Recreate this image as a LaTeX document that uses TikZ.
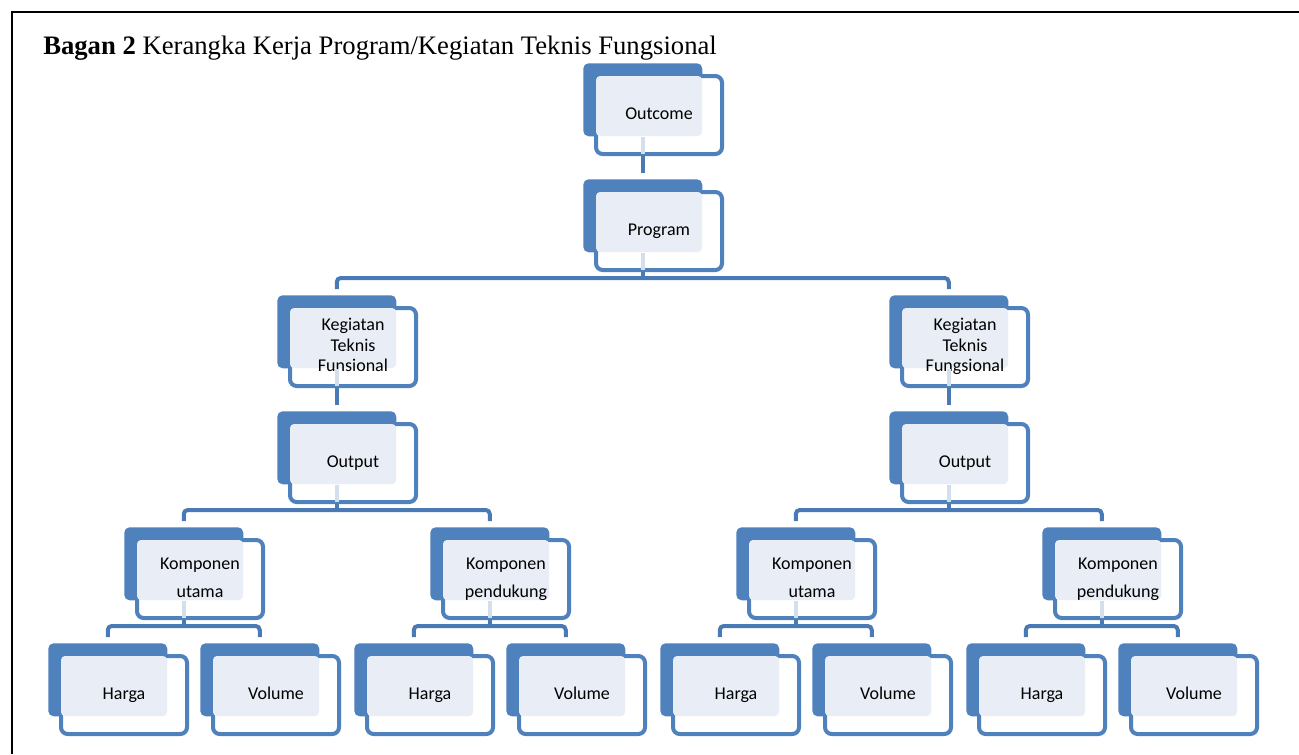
\documentclass[tikz,border=0pt]{standalone}
\usepackage{fontspec}
\setmainfont{Liberation Serif}
\newfontfamily\carlito{Carlito}
\usetikzlibrary{calc}
\definecolor{bblue}{HTML}{4F81BD}
\definecolor{lblue}{HTML}{4A7AB5}
\definecolor{lfill}{HTML}{E9EEF6}
\definecolor{sfill}{HTML}{D5DEEB}
\newcommand\st{\rule[-3pt]{0pt}{12.5pt}}
\tikzset{
  backbox/.style={fill=bblue, rounded corners=4pt, inner sep=0pt, minimum width=89.25pt, minimum height=54.75pt, anchor=north west},
  frontbox/.style={draw=bblue, line width=3pt, fill=white, rounded corners=5pt, inner sep=0pt, minimum width=94.5pt, minimum height=58.5pt, anchor=north west},
  lbl/.style={font=\carlito\fontsize{13.5}{15.4}\selectfont, align=center, inner sep=0pt, text=black},
  lbltwo/.style={font=\carlito\fontsize{13.5}{21}\selectfont},
  conn/.style={draw=lblue, line width=3pt},
  stubline/.style={draw=sfill, line width=3pt},
}
\newcommand\elem[5]{%
  \node[backbox] (#1-b) at (#2,#3) {};
  \node[frontbox] (#1) at (#2+11,#3+11) {};
  \fill[lfill, rounded corners=3pt] (#2+13,#3+13) rectangle (#2+119,#3+73);
  \node[lbl,#5] (#1-t) at (#1.center) {#4};
}
\newcommand\stub[1]{%
  \draw[stubline] (#1-b.south) -- ($(#1-b.south |- #1.south)+(0,-2)$);
}
\begin{document}
\begin{tikzpicture}[x=0.75pt,y=-0.75pt]
\useasboundingbox (0,0) rectangle (1299,754);
\fill[white] (0,0) rectangle (1299,754);
\draw[black, line width=1.5pt] (12,754) coordinate (fa) -- (12,12) coordinate (fb) -- (1299,12) coordinate (fc);
\node[anchor=base west, inner sep=0pt, font=\fontsize{20}{22}\selectfont] (title) at (43,54) {\textbf{Bagan 2} Kerangka Kerja Program/Kegiatan Teknis Fungsional};

\elem{oc}{583}{63}{\st Outcome}{}
\elem{pr}{583}{179}{\st Program}{}
\elem{kl}{277}{295}{\st Kegiatan\\\st Teknis\\\st Funsional}{}
\elem{kr}{889}{295}{\st Kegiatan\\\st Teknis\\\st Fungsional}{}
\elem{ol}{277}{411}{\st Output}{}
\elem{or}{889}{411}{\st Output}{}
\elem{k1}{124}{527}{\st Komponen\\\st utama}{lbltwo}
\elem{k2}{430}{527}{\st Komponen\\\st pendukung}{lbltwo}
\elem{k3}{736}{527}{\st Komponen\\\st utama}{lbltwo}
\elem{k4}{1042}{527}{\st Komponen\\\st pendukung}{lbltwo}
\elem{h1}{48}{643}{\st Harga}{}
\elem{v1}{200}{643}{\st Volume}{}
\elem{h2}{354}{643}{\st Harga}{}
\elem{v2}{506}{643}{\st Volume}{}
\elem{h3}{660}{643}{\st Harga}{}
\elem{v3}{812}{643}{\st Volume}{}
\elem{h4}{966}{643}{\st Harga}{}
\elem{v4}{1118}{643}{\st Volume}{}

% single connectors
\stub{oc}
\stub{kl}
\stub{kr}
\draw[conn] (oc-b.south |- oc.south) -- ($(pr-b.north)+(0,-6)$);
\draw[conn] (kl-b.south |- kl.south) -- ($(ol-b.north)+(0,-6)$);
\draw[conn] (kr-b.south |- kr.south) -- ($(or-b.north)+(0,-6)$);

% buses
\newcommand\bus[3]{%
  \stub{#1}
  \coordinate (#1-bus) at ($(#2-b.north)+(0,-17)$);
  \draw[conn, rounded corners=3pt] ($(#2-b.north)+(0,-6)$) -- (#1-bus) -| ($(#3-b.north)+(0,-6)$);
  \draw[conn] (#1-b.south |- #1.south) -- (#1-b.south |- #1-bus);
}
\bus{pr}{kl}{kr}
\bus{ol}{k1}{k2}
\bus{or}{k3}{k4}
\bus{k1}{h1}{v1}
\bus{k2}{h2}{v2}
\bus{k3}{h3}{v3}
\bus{k4}{h4}{v4}
\end{tikzpicture}
\end{document}
